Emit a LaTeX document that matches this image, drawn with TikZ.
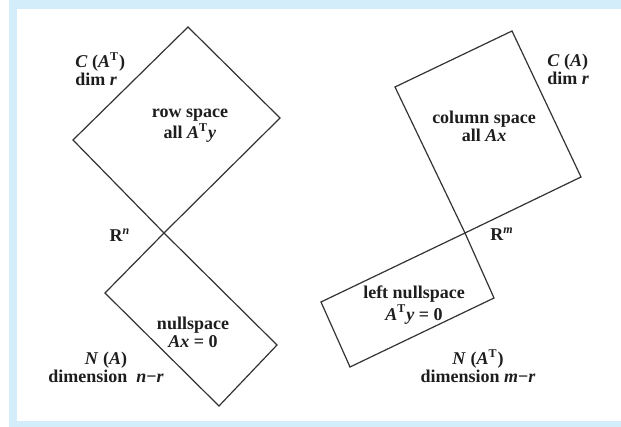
\documentclass[tikz,border=0pt]{standalone}
\usepackage{fontspec}
\setmainfont{Liberation Serif}
\usetikzlibrary{positioning}
\definecolor{fsFrame}{HTML}{D4EDFA}
\definecolor{fsInk}{HTML}{1E1E1E}
\tikzset{
  fsedge/.style={draw=black!80, line width=0.6pt, line join=miter},
  fslabel/.style={font=\fontsize{9}{9}\selectfont\bfseries, text=fsInk, align=center, inner sep=0pt},
  fsside/.style={fslabel, align=left, anchor=west}
}

\begin{document}
\begin{tikzpicture}[x=0.5pt, y=-0.5pt]
  \useasboundingbox (0,0) rectangle (621,427);
  \fill[white] (0,0) rectangle (621,427);
  \fill[fsFrame] (9,0) rectangle (621,427);
  \fill[white] (17,9) rectangle (621,421);

  % R^n: row space and nullspace
  \coordinate (rn) at (164,233);
  \coordinate (rowL) at (73,140);
  \coordinate (rowT) at (188,27);
  \coordinate (rowR) at (280,118);
  \coordinate (nulL) at (105,293);
  \coordinate (nulB) at (219,406);
  \coordinate (nulR) at (277,345);
  \draw[fsedge] (rn) -- (rowL) -- (rowT) -- (rowR) -- cycle;
  \draw[fsedge] (rn) -- (nulL) -- (nulB) -- (nulR) -- cycle;

  % R^m: column space and left nullspace
  \coordinate (rm) at (465,233);
  \coordinate (colL) at (395,87);
  \coordinate (colT) at (512,31);
  \coordinate (colR) at (581,177);
  \coordinate (lnsL) at (321,302);
  \coordinate (lnsB) at (350,367);
  \coordinate (lnsR) at (494,298);
  \draw[fsedge] (rm) -- (colL) -- (colT) -- (colR) -- cycle;
  \draw[fsedge] (rm) -- (lnsL) -- (lnsB) -- (lnsR) -- cycle;

  % labels
  \node[fsside] (rowdim) at (75,69) {\textit{C} (\textit{A}\textsuperscript{T})\\dim \textit{r}};
  \node[fslabel] (rowtxt) at (190,126) {row space\\all \textit{A}\textsuperscript{T}\textit{y}};
  \node[fslabel] (rnlbl) at (120,235) {R\textsuperscript{\textit{n}}};
  \node[fslabel] (nultxt) at (193,332) {nullspace\\\textit{Ax} = 0};
  \node[fslabel] (nuldim) at (106,367) {\textit{N} (\textit{A})\\dimension\ \ \textit{n}−\textit{r}};

  \node[fsside] (coldim) at (547,69) {\textit{C} (\textit{A})\\dim \textit{r}};
  \node[fslabel] (coltxt) at (484,126) {column space\\all \textit{Ax}};
  \node[fslabel] (rmlbl) at (502,234) {R\textsuperscript{\textit{m}}};
  \node[fslabel] (lnstxt) at (414,305) {left nullspace\\\textit{A}\textsuperscript{T}\textit{y} = 0};
  \node[fslabel] (lnsdim) at (478,366) {\textit{N} (\textit{A}\textsuperscript{T})\\dimension \textit{m}−\textit{r}};
\end{tikzpicture}
\end{document}
